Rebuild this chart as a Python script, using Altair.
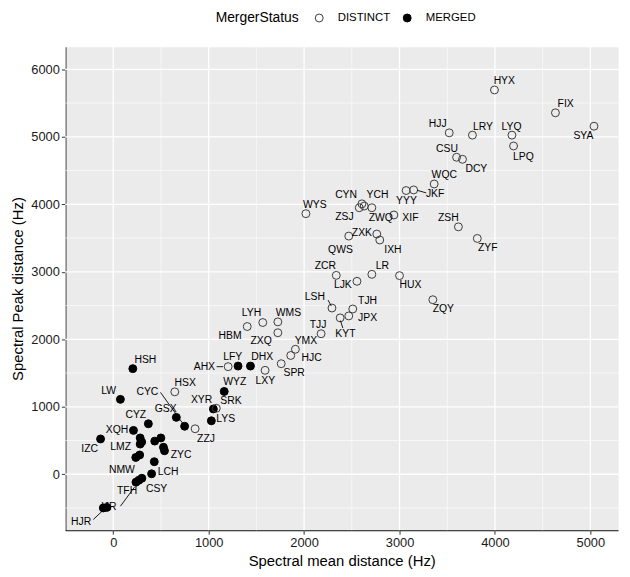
import altair as alt
import pandas as pd

# ---- data ----
names = ["HSH", "LW", "CYZ", "XQH", "IZC", "GSX", "CYC", "LMZ", "", "", "", "", "", "ZYC", "", "NMW", "", "LCH",
         "TFH", "IJR", "CSY", "HJR", "", "XYR", "LYS", "WYZ", "LFY", "DHX",
         "HSX", "ZZJ", "SRK", "AHX", "LXY", "SPR", "HJC", "YMX", "TJJ", "ZXQ", "HBM", "LYH", "WMS", "KYT", "JPX",
         "TJH", "LSH", "ZCR", "LJK", "LR", "HUX", "ZQY", "QWS", "ZXK", "IXH", "WYS", "CYN", "YCH", "ZWQ", "ZSJ",
         "XIF", "YYY", "JKF", "WQC", "ZSH", "ZYF", "CSU", "DCY", "HJJ", "LRY", "LYQ", "LPQ", "HYX", "FIX", "SYA"]
mean_dist = [205, 75, 368, 212, -133, 661, 748, 282, 282, 298, 435, 499, 526, 537, 277, 236, 430, 402,
             238, 269, 300, -104, -67, 1049, 1028, 1163, 1308, 1438,
             645, 858, 1080, 1204, 1591, 1760, 1860, 1909, 2178, 1725, 1404, 1567, 1725, 2378, 2468,
             2510, 2292, 2337, 2554, 2710, 3000, 3349, 2468, 2762, 2793, 2019, 2606, 2710, 2630, 2578,
             2941, 3069, 3148, 3363, 3617, 3815, 3598, 3660, 3521, 3764, 4178, 4195, 3995, 4634, 5038]
peak_dist = [1565, 1110, 748, 650, 523, 843, 711, 447, 538, 479, 491, 538, 400, 348, 286, 249, 186, 7,
             -117, -88, -59, -499, -491, 968, 792, 1227, 1603, 1603,
             1221, 674, 978, 1594, 1540, 1638, 1760, 1852, 2082, 2097, 2189, 2248, 2258, 2317, 2346,
             2449, 2463, 2947, 2859, 2962, 2943, 2586, 3529, 3559, 3471, 3861, 4007, 3949, 3974, 3949,
             3842, 4204, 4213, 4301, 3666, 3494, 4697, 4667, 5059, 5025, 5025, 4864, 5694, 5356, 5157]
status = ["MERGED"] * 28 + ["DISTINCT"] * 45
label_x = [337, -47, 236, 39, -247, 549, 358, 78, 0, 0, 0, 0, 0, 710, 0, 91, 0, 575,
           145, -47, 454, -337, 0, 926, 1179, 1273, 1252, 1560,
           754, 972, 1233, 955, 1594, 1896, 2078, 2019, 2147, 1549, 1225, 1449, 1836, 2433, 2665,
           2665, 2112, 2223, 2406, 2821, 3114, 3459, 2381, 2606, 2931, 2112, 2440, 2769, 2803, 2423,
           3114, 3073, 3373, 3469, 3511, 3925, 3497, 3805, 3401, 3874, 4174, 4298, 4098, 4741, 4927]
label_y = [1691, 1236, 880, 650, 371, 968, 1213, 406, 0, 0, 0, 0, 0, 283, 0, 63, 0, 40,
           -254, -488, -216, -704, 0, 1100, 821, 1368, 1740, 1740,
           1359, 528, 1081, 1594, 1383, 1500, 1726, 1979, 2214, 1969, 2053, 2386, 2386, 2082, 2321,
           2570, 2620, 3079, 2801, 3089, 2801, 2444, 3328, 3573, 3328, 3988, 4135, 4135, 3802, 3812,
           3802, 4047, 4154, 4428, 3802, 3347, 4820, 4521, 5195, 5147, 5147, 4707, 5831, 5488, 5010]

# repel segments (label side -> point side)
seg_x1 = [1083, 495, 2251, 2406, 3280, -209, 75]
seg_y1 = [1594, 1213, 2581, 2166, 4169, -670, -474]
seg_x2 = [1150, 731, 2285, 2381, 3184, -98, 223]
seg_y2 = [1594, 748, 2493, 2277, 4208, -523, -191]

x_major = [0, 1000, 2000, 3000, 4000, 5000]
x_minor = [-500, 500, 1500, 2500, 3500, 4500]
y_major = [0, 1000, 2000, 3000, 4000, 5000, 6000]
y_minor = [-500, 500, 1500, 2500, 3500, 4500, 5500]
x_domain = [-502, 5290]
y_domain = [-830, 6334]

df = pd.DataFrame({"name": names, "mean": mean_dist, "peak": peak_dist, "MergerStatus": status,
                   "lx": label_x, "ly": label_y})
labels_df = df[df["name"] != ""]
seg_df = pd.DataFrame({"x1": seg_x1, "y1": seg_y1, "x2": seg_x2, "y2": seg_y2})

FONT = "Liberation Sans"
XT = "Spectral mean distance (Hz)"
YT = "Spectral Peak distance (Hz)"


def make_axis(title, ticks):
    return alt.Axis(
        values=ticks, format="d", title=title, grid=False,
        tickColor="#333333", tickSize=4, tickWidth=1,
        domainColor="#111111", domainWidth=1.2,
        labelFont=FONT, labelFontSize=13, labelColor="#1a1a1a", labelPadding=2,
        titleFont=FONT, titleFontSize=15, titleFontWeight="normal", titleColor="black",
        titlePadding=5,
    )


xs = alt.Scale(domain=x_domain, nice=False, zero=False)
ys = alt.Scale(domain=y_domain, nice=False, zero=False)

vgrid_minor = alt.Chart(pd.DataFrame({"v": x_minor})).mark_rule(color="white", strokeWidth=0.6).encode(
    x=alt.X("v:Q", scale=xs, axis=make_axis(XT, x_major)))
vgrid_major = alt.Chart(pd.DataFrame({"v": x_major})).mark_rule(color="white", strokeWidth=1.3).encode(
    x=alt.X("v:Q", title=XT))
hgrid_minor = alt.Chart(pd.DataFrame({"v": y_minor})).mark_rule(color="white", strokeWidth=0.6).encode(
    y=alt.Y("v:Q", scale=ys, axis=make_axis(YT, y_major)))
hgrid_major = alt.Chart(pd.DataFrame({"v": y_major})).mark_rule(color="white", strokeWidth=1.3).encode(
    y=alt.Y("v:Q", title=YT))

points = alt.Chart(df).mark_point(shape="circle", filled=True, size=64, strokeWidth=1, opacity=1).encode(
    x=alt.X("mean:Q", title=XT),
    y=alt.Y("peak:Q", title=YT),
    fill=alt.Fill("MergerStatus:N",
                  scale=alt.Scale(domain=["DISTINCT", "MERGED"], range=["transparent", "black"]),
                  legend=alt.Legend(
                      title="MergerStatus", orient="none", direction="horizontal", titleOrient="left",
                      legendX=152, legendY=-35, titleFont=FONT, titleFontSize=14,
                      titleFontWeight="normal", titleColor="black", titlePadding=14,
                      labelFont=FONT, labelFontSize=11.5, labelColor="black", labelOffset=13,
                      columnPadding=10, symbolSize=64, symbolStrokeWidth=1, padding=0)),
    stroke=alt.Stroke("MergerStatus:N",
                      scale=alt.Scale(domain=["DISTINCT", "MERGED"], range=["#3c3c3c", "black"]),
                      legend=alt.Legend(title="MergerStatus")),
)

segments = alt.Chart(seg_df).mark_rule(color="black", strokeWidth=0.9).encode(
    x=alt.X("x1:Q", title=XT), y=alt.Y("y1:Q", title=YT),
    x2="x2:Q", y2="y2:Q",
)

texts = alt.Chart(labels_df).mark_text(font=FONT, fontSize=10.5, color="black",
                                       align="center", baseline="middle").encode(
    x=alt.X("lx:Q", title=XT), y=alt.Y("ly:Q", title=YT), text="name:N",
)

chart = alt.layer(vgrid_minor, vgrid_major, hgrid_minor, hgrid_major, points, segments, texts).properties(
    width=559, height=489,
    autosize=alt.AutoSizeParams(type="none"),
    padding={"left": 58, "top": 36, "right": 4, "bottom": 41},
).configure_view(fill="#EBEBEB", strokeOpacity=0)

chart.save("out.html", embed_options={"renderer": "svg", "actions": False})
